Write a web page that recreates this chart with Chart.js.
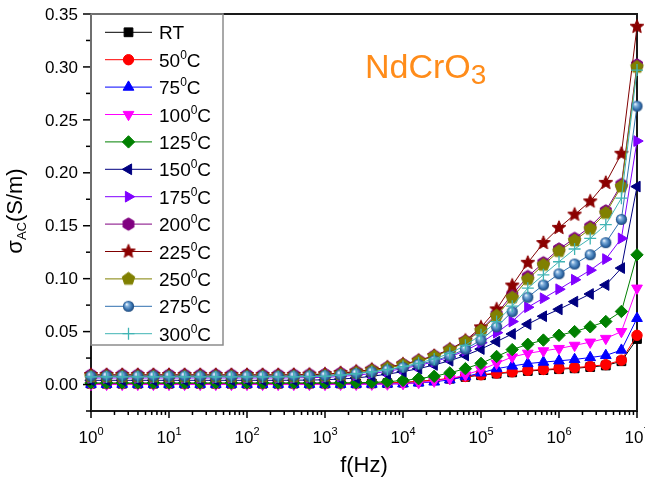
<!DOCTYPE html>
<html>
<head>
<meta charset="utf-8">
<script src="https://cdn.jsdelivr.net/npm/chart.js@4.4.1/dist/chart.umd.min.js"></script>
<style>
  html, body { margin: 0; padding: 0; background: #fff; }
  #wrap { width: 645px; height: 479px; position: relative; }
</style>
</head>
<body>
<div id="wrap"><canvas id="sigma-chart"></canvas></div>
<script>
// frequency sweep, 5 points per decade
const freqHz = [1, 1.585, 2.512, 3.981, 6.310, 10, 15.85, 25.12, 39.81, 63.10,
  100, 158.5, 251.2, 398.1, 631.0, 1000, 1585, 2512, 3981, 6310,
  1e4, 15850, 25120, 39810, 63100, 1e5, 158500, 251200, 398100, 631000,
  1e6, 1585000, 2512000, 3981000, 6310000, 1e7];

const tempLabels = ["RT", "50", "75", "100", "125", "150", "175", "200", "225", "250", "275", "300"];

// sigma_AC (S/m)
const sigmaRT  = [0.0008,0.0008,0.0008,0.0008,0.0008,0.0008,0.0008,0.0008,0.0008,0.0008,0.0008,0.0008,0.0008,0.0009,0.0009,0.0009,0.0010,0.0010,0.0011,0.0013,0.0018,0.0028,0.0040,0.0055,0.0072,0.0088,0.0103,0.0115,0.0128,0.0136,0.0145,0.0153,0.0165,0.0180,0.0220,0.0430];
const sigma50  = [0.0010,0.0010,0.0010,0.0010,0.0010,0.0010,0.0010,0.0010,0.0010,0.0010,0.0010,0.0010,0.0010,0.0011,0.0011,0.0011,0.0012,0.0012,0.0013,0.0015,0.0020,0.0030,0.0043,0.0058,0.0076,0.0092,0.0108,0.0120,0.0134,0.0142,0.0152,0.0160,0.0172,0.0188,0.0230,0.0465];
const sigma75  = [0.0003,0.0003,0.0003,0.0003,0.0003,0.0003,0.0003,0.0003,0.0003,0.0003,0.0003,0.0003,0.0003,0.0003,0.0003,0.0003,0.0003,0.0004,0.0004,0.0005,0.0008,0.0015,0.0025,0.0045,0.0075,0.0110,0.0150,0.0175,0.0198,0.0212,0.0224,0.0237,0.0255,0.0275,0.0325,0.0625];
const sigma100 = [0.0001,0.0001,0.0001,0.0001,0.0001,0.0001,0.0001,0.0001,0.0001,0.0001,0.0001,0.0001,0.0001,0.0001,0.0001,0.0001,0.0002,0.0002,0.0003,0.0004,0.0008,0.0018,0.0032,0.0055,0.0090,0.0140,0.0200,0.0260,0.0295,0.0318,0.0340,0.0370,0.0400,0.0435,0.0500,0.0910];
const sigma125 = [0.0015,0.0015,0.0015,0.0015,0.0015,0.0015,0.0015,0.0015,0.0015,0.0015,0.0015,0.0015,0.0015,0.0015,0.0015,0.0015,0.0016,0.0017,0.0020,0.0027,0.0038,0.0055,0.0078,0.0110,0.0150,0.0200,0.0265,0.0330,0.0380,0.0420,0.0465,0.0500,0.0545,0.0595,0.0690,0.1225];
const sigma150 = [0.0040,0.0040,0.0040,0.0040,0.0040,0.0040,0.0040,0.0040,0.0040,0.0040,0.0040,0.0040,0.0040,0.0041,0.0042,0.0045,0.0052,0.0062,0.0078,0.0098,0.0122,0.0150,0.0185,0.0225,0.0275,0.0335,0.0405,0.0478,0.0570,0.0645,0.0710,0.0783,0.0855,0.0940,0.1100,0.1870];
const sigma175 = [0.0062,0.0062,0.0062,0.0062,0.0062,0.0062,0.0062,0.0062,0.0062,0.0062,0.0062,0.0062,0.0062,0.0063,0.0065,0.0068,0.0076,0.0088,0.0104,0.0125,0.0150,0.0180,0.0215,0.0260,0.0320,0.0395,0.0490,0.0595,0.0730,0.0815,0.0900,0.0990,0.1080,0.1185,0.1380,0.2300];
const sigma200 = [0.0092,0.0092,0.0092,0.0092,0.0092,0.0092,0.0092,0.0092,0.0092,0.0092,0.0092,0.0092,0.0092,0.0093,0.0095,0.0098,0.0108,0.0122,0.0140,0.0163,0.0192,0.0228,0.0272,0.0332,0.0412,0.0520,0.0665,0.0850,0.1020,0.1150,0.1280,0.1380,0.1490,0.1640,0.1890,0.3020];
const sigma225 = [0.0090,0.0090,0.0090,0.0090,0.0090,0.0090,0.0090,0.0090,0.0090,0.0090,0.0090,0.0090,0.0090,0.0091,0.0093,0.0097,0.0108,0.0122,0.0140,0.0162,0.0190,0.0225,0.0270,0.0330,0.0415,0.0540,0.0710,0.0935,0.1150,0.1337,0.1480,0.1605,0.1730,0.1905,0.2180,0.3380];
const sigma250 = [0.0076,0.0076,0.0076,0.0076,0.0076,0.0076,0.0076,0.0076,0.0076,0.0076,0.0076,0.0076,0.0076,0.0077,0.0079,0.0083,0.0094,0.0110,0.0130,0.0155,0.0185,0.0220,0.0265,0.0325,0.0405,0.0510,0.0650,0.0820,0.0995,0.1130,0.1260,0.1360,0.1470,0.1620,0.1870,0.3000];
const sigma275 = [0.0080,0.0080,0.0080,0.0080,0.0080,0.0080,0.0080,0.0080,0.0080,0.0080,0.0080,0.0080,0.0080,0.0081,0.0082,0.0085,0.0093,0.0105,0.0120,0.0138,0.0162,0.0190,0.0225,0.0270,0.0335,0.0420,0.0545,0.0688,0.0825,0.0940,0.1046,0.1138,0.1226,0.1340,0.1560,0.2630];
const sigma300 = [0.0072,0.0072,0.0072,0.0072,0.0072,0.0072,0.0072,0.0072,0.0072,0.0072,0.0072,0.0072,0.0072,0.0073,0.0075,0.0078,0.0088,0.0102,0.0120,0.0142,0.0170,0.0202,0.0242,0.0295,0.0370,0.0470,0.0595,0.0740,0.0910,0.1036,0.1160,0.1280,0.1380,0.1510,0.1760,0.2970];

const allSigma = [sigmaRT, sigma50, sigma75, sigma100, sigma125, sigma150,
  sigma175, sigma200, sigma225, sigma250, sigma275, sigma300];

const yTicks = [0, 0.05, 0.10, 0.15, 0.20, 0.25, 0.30, 0.35];
const xDecades = [0, 1, 2, 3, 4, 5, 6, 7];

const FONT = '"Liberation Sans", Arial, sans-serif';
const supDigits = {};

// little canvases for the marker shapes Chart.js does not have
function polyMarker(color, sides, r, star) {
  const s = Math.ceil(2 * r + 3);
  const c = document.createElement('canvas');
  c.width = s; c.height = s;
  const g = c.getContext('2d');
  const n = star ? sides * 2 : sides;
  g.beginPath();
  for (let i = 0; i < n; i++) {
    const a = -Math.PI / 2 + i * 2 * Math.PI / n;
    const rr = (star && i % 2) ? r * 0.45 : r;
    const px = s / 2 + rr * Math.cos(a), py = s / 2 + rr * Math.sin(a);
    if (i) g.lineTo(px, py); else g.moveTo(px, py);
  }
  g.closePath();
  g.fillStyle = color; g.fill();
  g.strokeStyle = color; g.lineWidth = 1; g.stroke();
  return c;
}

function sphereMarker(r) {
  const s = Math.ceil(2 * r + 3);
  const c = document.createElement('canvas');
  c.width = s; c.height = s;
  const g = c.getContext('2d');
  const grad = g.createRadialGradient(s / 2 - r * 0.35, s / 2 - r * 0.4, 0.3, s / 2, s / 2, r);
  grad.addColorStop(0, '#f2f8ff');
  grad.addColorStop(0.3, '#7eaedb');
  grad.addColorStop(0.75, '#2f6aa8');
  grad.addColorStop(1, '#1c4475');
  g.beginPath();
  g.arc(s / 2, s / 2, r, 0, Math.PI * 2);
  g.fillStyle = grad; g.fill();
  return c;
}

const lineColors = ['#000000', '#ff0000', '#0000ff', '#ff00ff', '#008000', '#000080',
  '#8000ff', '#800080', '#800000', '#808000', '#3070b0', '#40b4b4'];
const markStyles = [
  { style: 'rect', radius: 6.2, rot: 0 },
  { style: 'circle', radius: 5.2, rot: 0 },
  { style: 'triangle', radius: 6.2, rot: 0 },
  { style: 'triangle', radius: 6.2, rot: 180 },
  { style: 'rectRot', radius: 6.2, rot: 0 },
  { style: 'triangle', radius: 6.2, rot: 270 },
  { style: 'triangle', radius: 6.2, rot: 90 },
  { style: polyMarker('#800080', 6, 6.2, false), radius: 6, rot: 0 },
  { style: polyMarker('#8b0000', 5, 7.2, true), radius: 7, rot: 0 },
  { style: polyMarker('#808000', 5, 6.6, false), radius: 6, rot: 0 },
  { style: sphereMarker(5.6), radius: 6, rot: 0 },
  { style: 'cross', radius: 6, rot: 0 }
];

const datasets = allSigma.map((vals, i) => ({
  label: tempLabels[i],
  data: vals.map((v, k) => ({ x: freqHz[k], y: v })),
  borderColor: lineColors[i],
  backgroundColor: lineColors[i],
  borderWidth: 1,
  pointStyle: markStyles[i].style,
  pointRadius: markStyles[i].radius,
  pointHoverRadius: markStyles[i].radius,
  pointRotation: markStyles[i].rot,
  pointBackgroundColor: lineColors[i],
  pointBorderColor: lineColors[i],
  pointBorderWidth: i === 11 ? 1.3 : 1,
  tension: 0,
  clip: false,
  order: 11 - i
}));

function supText(ctx, parts, x, y) {
  // parts: [text, size, dy]
  let cx = x;
  parts.forEach(p => {
    ctx.font = p[1] + 'px ' + FONT;
    ctx.fillText(p[0], cx, y + p[2]);
    cx += ctx.measureText(p[0]).width;
  });
  return cx;
}
function supWidth(ctx, parts) {
  let w = 0;
  parts.forEach(p => { ctx.font = p[1] + 'px ' + FONT; w += ctx.measureText(p[0]).width; });
  return w;
}

const framePlugin = {
  id: 'frame',
  beforeDatasetsDraw(chart) {
    const ctx = chart.ctx, a = chart.chartArea;
    ctx.save();
    ctx.strokeStyle = '#1a1a1a';
    ctx.lineWidth = 2;
    ctx.strokeRect(a.left, a.top, a.right - a.left, a.bottom - a.top);
    ctx.restore();
  },
  afterDraw(chart) {
    const ctx = chart.ctx, a = chart.chartArea;
    const xs = chart.scales.x, ys = chart.scales.y;
    ctx.save();
    ctx.strokeStyle = '#000';
    ctx.fillStyle = '#000';
    ctx.lineWidth = 1.5;

    // x ticks, outward
    xDecades.forEach(e => {
      const px = xs.getPixelForValue(Math.pow(10, e));
      ctx.beginPath(); ctx.moveTo(px, a.bottom); ctx.lineTo(px, a.bottom + 7); ctx.stroke();
      if (e < 7) {
        for (let m = 2; m <= 9; m++) {
          const mx = xs.getPixelForValue(m * Math.pow(10, e));
          ctx.beginPath(); ctx.moveTo(mx, a.bottom); ctx.lineTo(mx, a.bottom + 4); ctx.stroke();
        }
      }
      const parts = [['10', 17, 0], [String(e), 11, -8]];
      const w = supWidth(ctx, parts);
      ctx.textAlign = 'left'; ctx.textBaseline = 'alphabetic';
      supText(ctx, parts, px - w / 2, 443);
    });

    // y ticks, outward
    yTicks.forEach(v => {
      const py = ys.getPixelForValue(v);
      ctx.beginPath(); ctx.moveTo(a.left, py); ctx.lineTo(a.left - 8, py); ctx.stroke();
      ctx.font = '17px ' + FONT;
      ctx.textAlign = 'right'; ctx.textBaseline = 'middle';
      ctx.fillText(v.toFixed(2), a.left - 13, py + 1);
    });
    [-0.025, 0.025, 0.075, 0.125, 0.175, 0.225, 0.275, 0.325].forEach(v => {
      const py = ys.getPixelForValue(v);
      ctx.beginPath(); ctx.moveTo(a.left, py); ctx.lineTo(a.left - 5, py); ctx.stroke();
    });

    // axis titles
    ctx.textBaseline = 'alphabetic';
    ctx.textAlign = 'center';
    ctx.font = '22px ' + FONT;
    ctx.fillText('f(Hz)', (a.left + a.right) / 2, 472);

    ctx.save();
    ctx.translate(22, 211);
    ctx.rotate(-Math.PI / 2);
    ctx.textAlign = 'left';
    const yParts = [['\u03c3', 22, 0], ['AC', 13, 4], ['(S/m)', 22, 0]];
    supText(ctx, yParts, -supWidth(ctx, yParts) / 2, 0);
    ctx.restore();

    // compound label
    ctx.fillStyle = '#ff8c1a';
    ctx.textAlign = 'left';
    supText(ctx, [['NdCrO', 34, 0], ['3', 28, 6]], 365, 78);

    // legend
    ctx.fillStyle = '#fff';
    ctx.fillRect(a.left + 1, a.top + 1, 131, 330);
    ctx.strokeStyle = '#8c8c8c';
    ctx.lineWidth = 1.5;
    ctx.strokeRect(a.left, a.top, 132, 331);
    chart.data.datasets.forEach((ds, i) => {
      const ly = 32.3 + i * 27.4;
      ctx.strokeStyle = ds.borderColor;
      ctx.lineWidth = 1;
      ctx.beginPath(); ctx.moveTo(105, ly); ctx.lineTo(152, ly); ctx.stroke();
      ctx.fillStyle = ds.pointBackgroundColor;
      ctx.strokeStyle = ds.pointBorderColor;
      ctx.lineWidth = ds.pointBorderWidth;
      Chart.helpers.drawPoint(ctx, {
        pointStyle: ds.pointStyle, rotation: ds.pointRotation,
        radius: ds.pointRadius, borderWidth: ds.pointBorderWidth
      }, 128.5, ly);
      ctx.fillStyle = '#000';
      ctx.textBaseline = 'alphabetic';
      if (i === 0) {
        supText(ctx, [[tempLabels[i], 19, 0]], 159, ly + 7);
      } else {
        supText(ctx, [[tempLabels[i], 19, 0], ['0', 12, -8], ['C', 19, 0]], 159, ly + 7);
      }
    });
    ctx.restore();
  }
};

new Chart(document.getElementById('sigma-chart'), {
  type: 'line',
  data: { datasets: datasets },
  options: {
    responsive: true,
    maintainAspectRatio: false,
    animation: false,
    layout: { padding: { left: 91, right: 7, top: 14, bottom: 68 } },
    plugins: { legend: { display: false }, tooltip: { enabled: false } },
    scales: {
      x: { type: 'logarithmic', min: 1, max: 1e7, display: false },
      y: { type: 'linear', min: -0.025, max: 0.35, display: false }
    }
  },
  plugins: [framePlugin]
});
</script>
</body>
</html>
